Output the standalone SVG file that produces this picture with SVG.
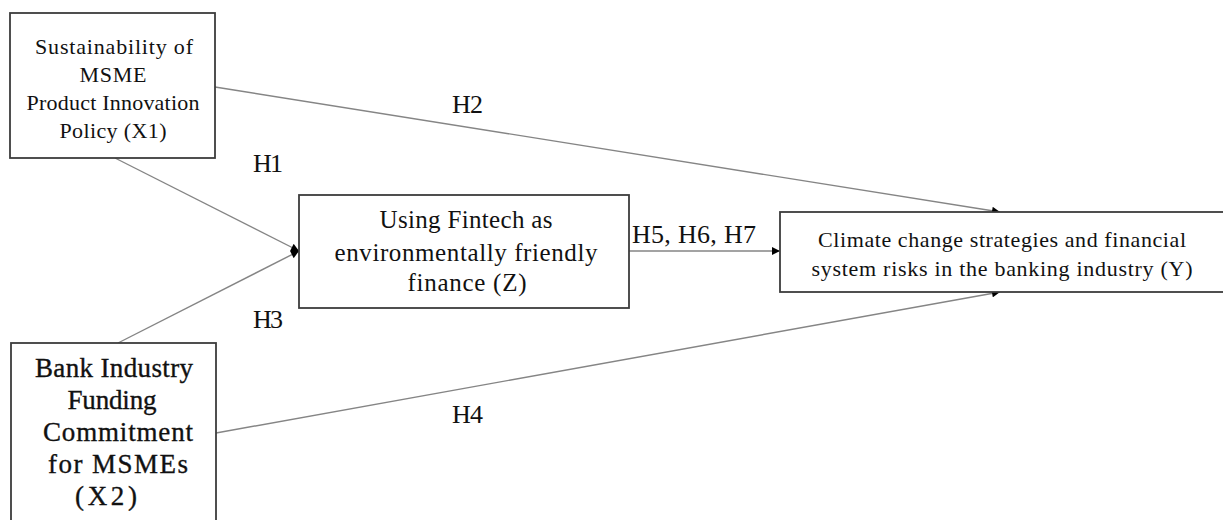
<svg xmlns="http://www.w3.org/2000/svg" width="1223" height="520" viewBox="0 0 1223 520">
<style>
.box{fill:#fff;stroke:#3c3c3c;stroke-width:1.8}
.ln{stroke:#858585;stroke-width:1.4;fill:none}
.t{text-anchor:middle}
.lbl{font-size:26px}
</style>
<defs>
<marker id="ah" viewBox="0 0 10 10" refX="10" refY="5" markerWidth="9" markerHeight="8" markerUnits="userSpaceOnUse" orient="auto">
<path d="M0,0 L10,5 L0,10 z" fill="#000"/>
</marker>
</defs>
<rect width="1223" height="520" fill="#fff"/>
<g font-family="'Liberation Serif', 'Times New Roman', 'DejaVu Serif', serif" fill="#111">
<g id="connectors">
<line class="ln" x1="215" y1="87" x2="1000" y2="212" marker-end="url(#ah)"/>
<line class="ln" x1="115" y1="158" x2="299" y2="251" marker-end="url(#ah)"/>
<line class="ln" x1="118" y1="343" x2="299" y2="251" marker-end="url(#ah)"/>
<line class="ln" x1="216" y1="433" x2="1000" y2="292" marker-end="url(#ah)"/>
<line class="ln" x1="629" y1="251" x2="780" y2="251" marker-end="url(#ah)"/>
<text class="lbl" x="452" y="113" textLength="31">H2</text>
<text class="lbl" x="253" y="172" textLength="30">H1</text>
<text class="lbl" x="253" y="328" textLength="30">H3</text>
<text class="lbl" x="452" y="423" textLength="31">H4</text>
<text class="lbl" x="632" y="243" textLength="124">H5, H6, H7</text>
</g>
<g id="x1">
<rect class="box" x="10" y="13" width="205" height="145"/>
<text class="t" font-size="22" x="114" y="54" textLength="158">Sustainability  of</text>
<text class="t" font-size="22" x="113" y="82" textLength="67">MSME</text>
<text class="t" font-size="22" x="113" y="110" textLength="173">Product Innovation</text>
<text class="t" font-size="22" x="113" y="138" textLength="107">Policy  (X1)</text>
</g>
<g id="x2" stroke="#111" stroke-width="0.35">
<rect class="box" x="11" y="343" width="205" height="190"/>
<text class="t" font-size="27" x="114" y="377" textLength="158">Bank Industry</text>
<text class="t" font-size="27" x="112" y="409" textLength="89">Funding</text>
<text class="t" font-size="27" x="118" y="441" textLength="150">Commitment</text>
<text class="t" font-size="27" x="118" y="473" textLength="140">for MSMEs</text>
<text class="t" font-size="27" x="106" y="505" textLength="62">(X2)</text>
</g>
<g id="z">
<rect class="box" x="299" y="195" width="330" height="113"/>
<text class="t" font-size="25" x="466" y="228" textLength="173">Using Fintech as</text>
<text class="t" font-size="25" x="466" y="261" textLength="263">environmentally friendly</text>
<text class="t" font-size="25" x="467" y="291" textLength="119">finance (Z)</text>
</g>
<g id="y">
<rect class="box" x="780" y="212" width="460" height="80"/>
<text class="t" font-size="22" x="1002" y="247" textLength="368">Climate  change  strategies  and financial</text>
<text class="t" font-size="22" x="1002" y="276" textLength="381">system risks  in the  banking  industry  (Y)</text>
</g>
</g>
</svg>
